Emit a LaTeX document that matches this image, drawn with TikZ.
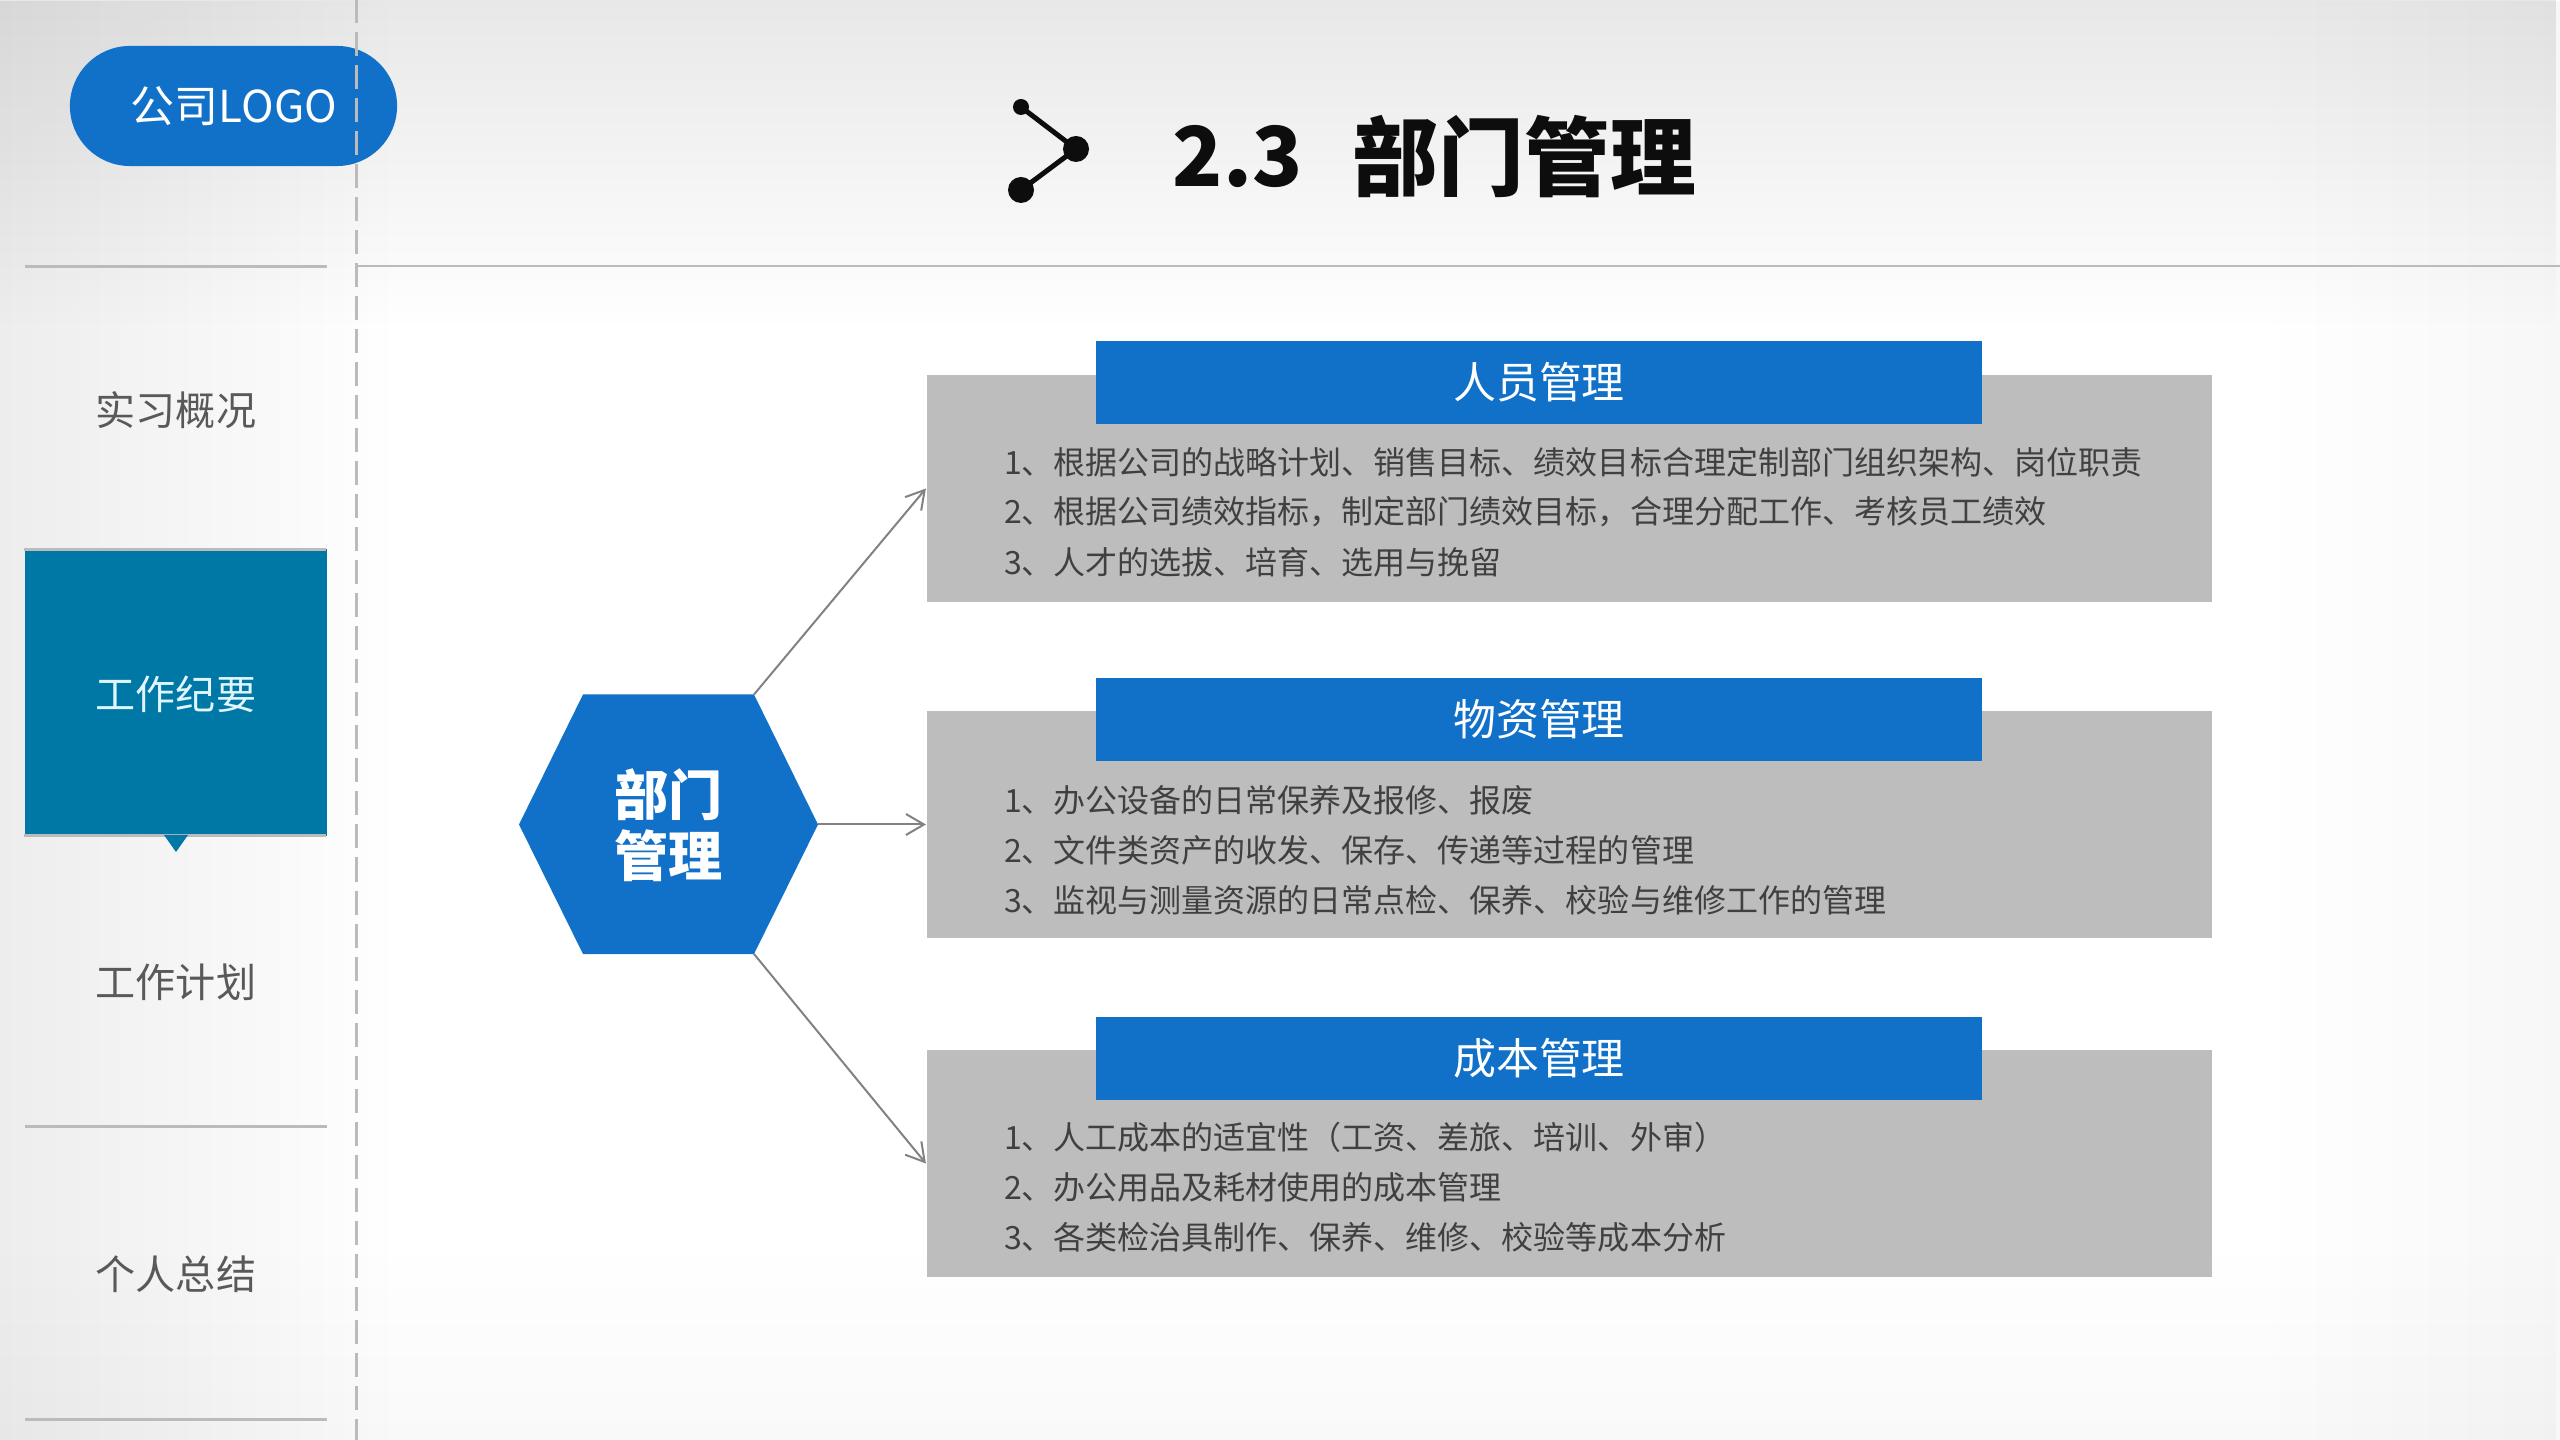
\documentclass[tikz,border=0pt]{standalone}
\usepackage{fontspec}
\setmainfont{Noto Sans CJK SC}
\usetikzlibrary{arrows.meta,fadings}
\definecolor{brandblue}{HTML}{1170C8}
\definecolor{brandteal}{HTML}{0078A5}
\definecolor{rulegray}{HTML}{BBBBBB}
\definecolor{panelgray}{HTML}{BDBDBD}
\definecolor{bodygray}{HTML}{404040}
\definecolor{sidegray}{HTML}{595959}
\tikzset{
  panel/.style={fill=panelgray, inner sep=0, minimum width=12.85cm, minimum height=2.27cm},
  headbar/.style={fill=brandblue, text=white, inner sep=0, minimum width=8.86cm, minimum height=0.83cm, font=\fontsize{12.2}{14}\selectfont},
  bodyline/.style={anchor=west, inner sep=0, text=bodygray, font=\fontsize{9.1}{11}\selectfont},
  sidelabel/.style={inner sep=0, text=sidegray, font=\fontsize{11.4}{14}\selectfont},
  siderule/.style={draw=rulegray, line width=0.03cm},
  flowarrow/.style={draw=gray!98, line width=0.02cm, -{Straight Barb[length=0.18cm,width=0.21cm,line width=0.02cm]}},
}
\begin{document}
\begin{tikzpicture}[x=0.01cm,y=-0.01cm]
\useasboundingbox (0,0) rectangle (2560,1440);
% paper background
\fill[white] (0,0) rectangle (2560,1440);
\fill[black, fill opacity=0.09, path fading=south] (0,0) rectangle (2560,330);
\fill[black, fill opacity=0.07, path fading=east] (0,0) rectangle (400,1440);
\fill[black, fill opacity=0.03, path fading=west] (2260,0) rectangle (2560,1440);
\fill[black, fill opacity=0.025, path fading=north] (0,1240) rectangle (2560,1440);
% logo pill
\node[fill=brandblue, rounded corners=0.6cm, minimum width=3.27cm, minimum height=1.2cm, inner sep=0] (logo) at (233.5,106) {};
\node[text=white, inner sep=0, font=\fontsize{12.5}{14}\selectfont] (logotext) at (234,106) {公司LOGO};
% side menu
\foreach \y in {267, 1126, 1419} {
  \draw[siderule] (25,\y) -- (327,\y);
}
\node[fill=brandteal, minimum width=3.02cm, minimum height=2.87cm, inner sep=0] (current) at (176,692.5) {};
\draw[siderule] (current.north west) ++(0,1.5) -- ++(302,0);
\draw[siderule] (current.south west) ++(0,-1.5) -- ++(302,0);
\fill[brandteal] (164,835) -- (188,835) -- (176,852) -- cycle;
\node[sidelabel] (menuA) at (176,410) {实习概况};
\node[sidelabel, text=white!88!cyan] (menuB) at (176,694) {工作纪要};
\node[sidelabel] (menuC) at (176,982) {工作计划};
\node[sidelabel] (menuD) at (176,1274) {个人总结};
% frame lines
\draw[rulegray, line width=0.03cm, dash pattern=on 0.24cm off 0.09cm] (356,-1) -- (356,1440);
\draw[rulegray, line width=0.02cm] (356,266) -- (2560,266);
% title with icon
\coordinate (iconA) at (1021,107);
\coordinate (iconB) at (1076,149);
\coordinate (iconC) at (1021,190);
\draw[black!95, line width=0.05cm] (iconA) -- (iconB) -- (iconC);
\fill[black!95] (iconA) circle (8) (iconB) circle (13) (iconC) circle (13);
\node[anchor=west, inner sep=0, text=black!95, font=\fontsize{23.5}{28}\selectfont\bfseries] (title) at (1172,157) {2.3};
\node[anchor=west, inner sep=0, text=black!95, font=\fontsize{24.4}{28}\selectfont\bfseries] (titleB) at (1352,157) {部门管理};
% hexagon
\coordinate (hexNE) at (754,694.5);
\coordinate (hexE) at (818,824.5);
\coordinate (hexSE) at (754,954);
\fill[brandblue] (583,694.5) -- (hexNE) -- (hexE) -- (hexSE) -- (583,954) -- (519,824.5) -- cycle;
\node[text=white, inner sep=0, align=center, font=\fontsize{15.4}{17.4}\selectfont\bfseries] (hex) at (668.5,825) {部门\\管理};
% panels
\node[panel] (panelA) at (1569.5,488.5) {};
\node[panel] (panelB) at (1569.5,824.5) {};
\node[panel] (panelC) at (1569.5,1163.5) {};
\node[headbar] (headA) at (1539,382.5) {人员管理};
\node[headbar] (headB) at (1539,719.5) {物资管理};
\node[headbar] (headC) at (1539,1058.5) {成本管理};
\draw[flowarrow] (hexNE) -- (panelA.west);
\draw[flowarrow] (hexE) -- (panelB.west);
\draw[flowarrow] (hexSE) -- (panelC.west);
% panel texts
\foreach \nm/\y/\lab in {
  a1/462/{1、根据公司的战略计划、销售目标、绩效目标合理定制部门组织架构、岗位职责},
  a2/512/{2、根据公司绩效指标，制定部门绩效目标，合理分配工作、考核员工绩效},
  a3/562/{3、人才的选拔、培育、选用与挽留},
  b1/800/{1、办公设备的日常保养及报修、报废},
  b2/850/{2、文件类资产的收发、保存、传递等过程的管理},
  b3/900/{3、监视与测量资源的日常点检、保养、校验与维修工作的管理},
  c1/1137/{1、人工成本的适宜性（工资、差旅、培训、外审）},
  c2/1187/{2、办公用品及耗材使用的成本管理},
  c3/1237/{3、各类检治具制作、保养、维修、校验等成本分析}} {
  \node[bodyline] (\nm) at (1003.5,\y) {\lab};
}
\end{tikzpicture}
\end{document}
